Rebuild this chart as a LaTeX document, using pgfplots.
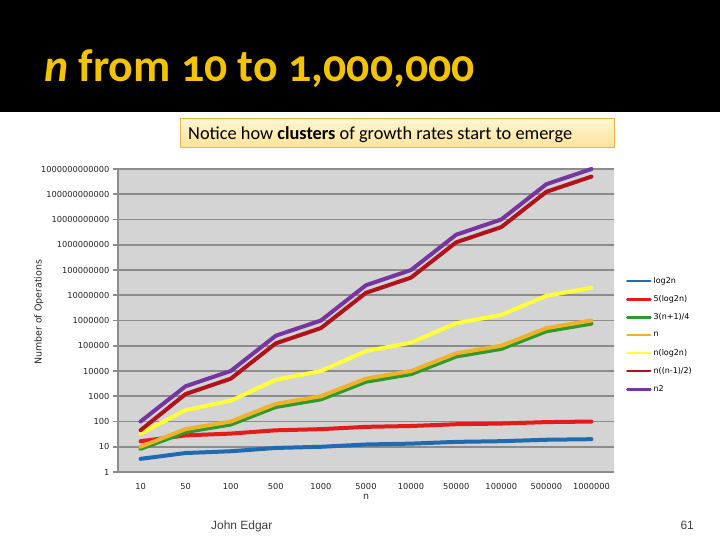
\documentclass[border=0pt]{standalone}
\usepackage{pgfplots}
\pgfplotsset{compat=1.18}
\usepackage{fontspec}
\setmainfont{Carlito}
\newfontfamily\titlefont[Numbers=OldStyle]{Carlito}
\newfontfamily\chartfont{DejaVu Sans}
\newfontfamily\footfont{Liberation Sans}

\definecolor{slidegold}{HTML}{F4C300}
\definecolor{boxtop}{HTML}{FFF6D6}
\definecolor{boxbot}{HTML}{FCE39A}
\definecolor{boxedge}{HTML}{E3B648}
\definecolor{plotbg}{HTML}{D4D4D4}
\definecolor{gridgray}{HTML}{8C8C8C}
\definecolor{cLog}{HTML}{1F6BB3}
\definecolor{cFiveLog}{HTML}{E31B1B}
\definecolor{cThree}{HTML}{2E9A2E}
\definecolor{cN}{HTML}{F0B22A}
\definecolor{cNLog}{HTML}{FFFF3A}
\definecolor{cHalf}{HTML}{B0141A}
\definecolor{cSq}{HTML}{7636A0}

\begin{document}
\begin{tikzpicture}
\useasboundingbox (0,0) rectangle (720bp,-540bp);
\fill[white] (0,0) rectangle (720bp,-540bp);
% title band
\fill[black] (0,0) rectangle (720bp,-112bp);
\node[anchor=base west, text=slidegold, inner sep=0pt, font=\titlefont\bfseries\fontsize{46}{53}\selectfont]
  at (44bp,-81bp) {\textit{n} from 10 to 1,000,000};
% caption box
\shade[top color=boxtop, bottom color=boxbot, draw=boxedge, line width=0.8bp]
  (180bp,-118bp) rectangle (614bp,-147bp);
\node[anchor=base west, inner sep=0pt, font=\fontsize{18.4}{22}\selectfont]
  at (188bp,-139bp) {Notice how \textbf{clusters} of growth rates start to emerge};
% footer
\node[anchor=base west, inner sep=0pt, text=black!75, font=\footfont\fontsize{12}{14}\selectfont]
  at (211bp,-529bp) {John Edgar};
\node[anchor=base east, inner sep=0pt, text=black!75, font=\footfont\fontsize{12}{14}\selectfont]
  at (694bp,-529bp) {61};

\begin{axis}[
  at={(118bp,-472bp)}, anchor=south west,
  scale only axis, width=496bp, height=303bp,
  xmin=-0.5, xmax=10.5,
  ymode=log, ymin=1, ymax=1e12,
  xtick={0,...,10},
  xticklabels={10,50,100,500,1000,5000,10000,50000,100000,500000,1000000},
  ytick={1,1e1,1e2,1e3,1e4,1e5,1e6,1e7,1e8,1e9,1e10,1e11,1e12},
  yticklabels={1,10,100,1000,10000,100000,1000000,10000000,100000000,1000000000,10000000000,100000000000,1000000000000},
  axis background/.style={fill=plotbg},
  axis x line*=bottom, axis y line*=left,
  axis line style={draw=gridgray, line width=2bp, -},
  ymajorgrids, major grid style={draw=gridgray, line width=1.8bp},
  yminorgrids=false, yminorticks=false, xminorticks=false,
  tick align=outside, major tick length=5bp,
  ytick style={draw=gridgray, line width=1.8bp},
  xtick style={draw=none},
  ticklabel style={font=\chartfont\fontsize{8.3}{10}\selectfont, text=black!85},
  xticklabel style={yshift=-3bp},
  xlabel={n}, ylabel={Number of Operations},
  label style={font=\chartfont\fontsize{9.5}{11}\selectfont, text=black!85},
  xlabel style={at={(axis description cs:0.5,-0.083)}, anchor=center},
  ylabel style={at={(axis description cs:-0.159,0.527)}, anchor=center},
  legend style={at={(axis description cs:1.024,0.65)}, anchor=north west,
    draw=none, fill=none, font=\chartfont\fontsize{8}{10}\selectfont,
    row sep=6.8bp, inner sep=0pt},
  legend cell align=left,
  legend image code/.code={\draw[#1, line width=2.5bp] (0bp,0bp) -- (23bp,0bp);},
  every axis plot/.append style={line width=4bp, line join=round, line cap=round, mark=none},
  clip=false,
]
% log2 n
\addplot[cLog] coordinates {(0,3.32)(1,5.64)(2,6.64)(3,8.97)(4,9.97)(5,12.29)(6,13.29)(7,15.61)(8,16.61)(9,18.93)(10,19.93)};
\addlegendentry{log2n}
% 5 log2 n
\addplot[cFiveLog] coordinates {(0,16.6)(1,28.2)(2,33.2)(3,44.8)(4,49.8)(5,61.4)(6,66.4)(7,78.0)(8,83.0)(9,94.7)(10,99.7)};
\addlegendentry{5(log2n)}
% 3(n+1)/4
\addplot[cThree] coordinates {(0,8.25)(1,38.25)(2,75.75)(3,375.75)(4,750.75)(5,3750.75)(6,7500.75)(7,37500.75)(8,75000.75)(9,375000.75)(10,750000.75)};
\addlegendentry{3(n+1)/4}
% n
\addplot[cN] coordinates {(0,10)(1,50)(2,100)(3,500)(4,1000)(5,5000)(6,10000)(7,50000)(8,100000)(9,500000)(10,1000000)};
\addlegendentry{n}
% n log2 n
\addplot[cNLog] coordinates {(0,33.2)(1,282)(2,664)(3,4483)(4,9966)(5,61439)(6,132877)(7,780482)(8,1660964)(9,9465784)(10,19931569)};
\addlegendentry{n(log2n)}
% n(n-1)/2
\addplot[cHalf] coordinates {(0,45)(1,1225)(2,4950)(3,124750)(4,499500)(5,12497500)(6,49995000)(7,1249975000)(8,4999950000)(9,124999750000)(10,499999500000)};
\addlegendentry{n((n-1)/2)}
% n squared
\addplot[cSq] coordinates {(0,100)(1,2500)(2,10000)(3,250000)(4,1000000)(5,25000000)(6,100000000)(7,2500000000)(8,10000000000)(9,250000000000)(10,1000000000000)};
\addlegendentry{n2}
\end{axis}
\end{tikzpicture}
\end{document}
